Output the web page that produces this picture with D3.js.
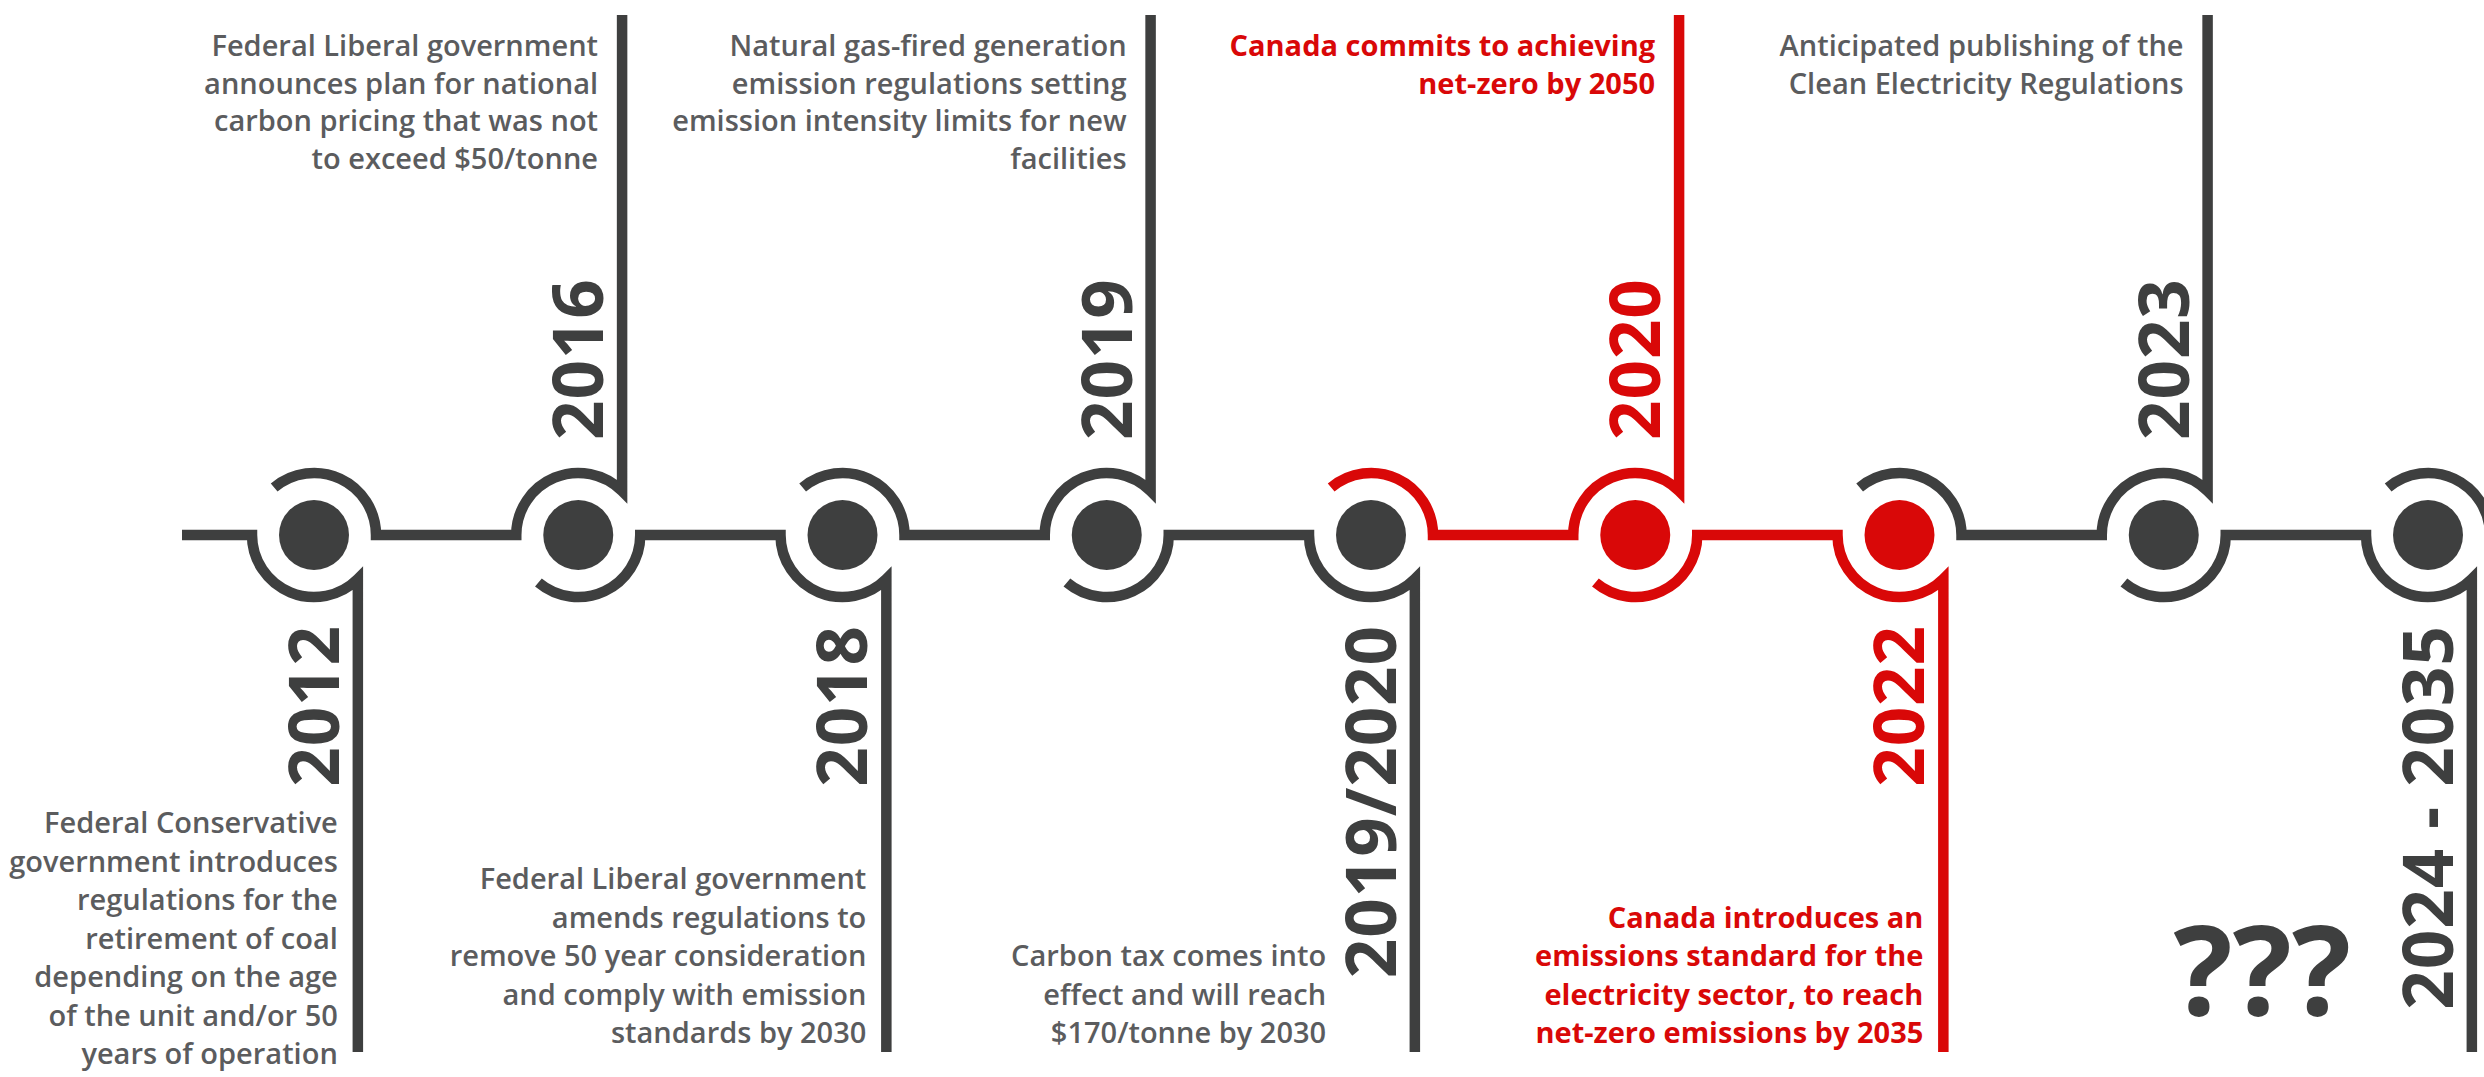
<!DOCTYPE html>
<html>
<head>
<meta charset="utf-8">
<title>Canada electricity emissions timeline</title>
<script src="https://cdn.jsdelivr.net/npm/d3@7"></script>
<style>
  body { margin: 0; background: #fff; }
  #chart-area svg { display: block; font-family: "Open Sans", sans-serif; }
</style>
</head>
<body>
<div id="chart-area"></div>
<script>
// timeline data
const EVENTS = ["2012", "2016", "2018", "2019", "2019/2020", "2020", "2022", "2023", "2024 - 2035"]
const SIDES = ["bottom", "top", "bottom", "top", "bottom", "top", "bottom", "top", "bottom"]
const HIGHLIGHT = [false, false, false, false, false, true, true, false, false]
const NOTES = [
	["Federal Conservative", "government introduces", "regulations for the", "retirement of coal", "depending on the age", "of the unit and/or 50", "years of operation"],
	["Federal Liberal government", "announces plan for national", "carbon pricing that was not", "to exceed $50/tonne"],
	["Federal Liberal government", "amends regulations to", "remove 50 year consideration", "and comply with emission", "standards by 2030"],
	["Natural gas-fired generation", "emission regulations setting", "emission intensity limits for new", "facilities"],
	["Carbon tax comes into", "effect and will reach", "$170/tonne by 2030"],
	["Canada commits to achieving", "net-zero by 2050"],
	["Canada introduces an", "emissions standard for the", "electricity sector, to reach", "net-zero emissions by 2035"],
	["Anticipated publishing of the", "Clean Electricity Regulations"],
	["???"]
]

const WIDTH = 2484
const HEIGHT = 1077
const MARGIN = { LEFT: 314, RIGHT: 56, TOP: 15, BOTTOM: 25 }
const AXIS_Y = 535
const TOP_Y = MARGIN.TOP
const BOTTOM_Y = HEIGHT - MARGIN.BOTTOM
const RING_R = 62
const DOT_R = 35
const STROKE = 10.5
const JX = RING_R * Math.cos(Math.PI / 4)   // where the stem leaves the ring
const TAIL = 130 * Math.PI / 180            // free end of the open half-ring
const LEAD = 70
const LABEL_SIZE = 69
const LABEL_GAP = 19

const DARK = "#3e3f3f"
const RED = "#d90808"
const GREY = "#5b5c5e"

const x = d3.scalePoint()
	.domain(EVENTS)
	.range([MARGIN.LEFT, WIDTH - MARGIN.RIGHT])

const svg = d3.select("#chart-area").append("svg")
	.attr("width", WIDTH)
	.attr("height", HEIGHT)

const lineGroup = svg.append("g")
const dotGroup = svg.append("g")
const labelGroup = svg.append("g")
const noteGroup = svg.append("g")

// half ring a node hands on to the next segment
function outgoing(p, i) {
	const cx = x(EVENTS[i])
	if (SIDES[i] === "top") p.arc(cx, AXIS_Y, RING_R, TAIL, 0, true)
	else p.arc(cx, AXIS_Y, RING_R, -TAIL, 0, false)
}

// half ring + stem of the node a segment runs into
function incoming(p, i) {
	const cx = x(EVENTS[i])
	p.lineTo(cx - RING_R, AXIS_Y)
	if (SIDES[i] === "top") {
		p.arc(cx, AXIS_Y, RING_R, Math.PI, 1.75 * Math.PI, false)
		p.lineTo(cx + JX, TOP_Y)
	} else {
		p.arc(cx, AXIS_Y, RING_R, Math.PI, 0.25 * Math.PI, true)
		p.lineTo(cx + JX, BOTTOM_Y)
	}
}

const segments = EVENTS.map((ev, i) => {
	const p = d3.path()
	if (i === 0) p.moveTo(x(ev) - RING_R - LEAD, AXIS_Y)
	else outgoing(p, i - 1)
	incoming(p, i)
	return { d: p.toString(), color: HIGHLIGHT[i] ? RED : DARK }
})
const tail = d3.path()
outgoing(tail, EVENTS.length - 1)
tail.lineTo(WIDTH, AXIS_Y)
segments.push({ d: tail.toString(), color: DARK })

lineGroup.selectAll("path")
	.data(segments)
	.join("path")
	.attr("d", d => d.d)
	.attr("fill", "none")
	.attr("stroke", d => d.color)
	.attr("stroke-width", STROKE)
	.attr("stroke-linejoin", "miter")
	.attr("stroke-miterlimit", 10)

dotGroup.selectAll("circle")
	.data(EVENTS)
	.join("circle")
	.attr("cx", d => x(d))
	.attr("cy", AXIS_Y)
	.attr("r", DOT_R)
	.attr("fill", (d, i) => HIGHLIGHT[i] ? RED : DARK)

// Year labels, rotated
const labels = labelGroup.selectAll("text")
	.data(EVENTS)
	.join("text")
	.attr("transform", (d, i) => `translate(${x(d) + JX - LABEL_GAP}, ${SIDES[i] === "top" ? AXIS_Y - 95 : AXIS_Y + 90}) rotate(-90)`)
	.attr("text-anchor", (d, i) => SIDES[i] === "top" ? "start" : "end")
	.attr("font-size", LABEL_SIZE + "px")
	.attr("font-weight", 700)
	.attr("letter-spacing", 1)
	.attr("fill", (d, i) => HIGHLIGHT[i] ? RED : DARK)
	.text(d => d)

// Notes
labels.each(function(d, i) {
	const len = this.getComputedTextLength()
	const vx = x(d) + JX
	const future = i === EVENTS.length - 1
	const size = future ? 124 : 29
	const lh = SIDES[i] === "top" ? 37.5 : 38.5
	const capH = size * 0.72
	const gap = Math.max(20, size * 0.42)
	const n = NOTES[i].length
	let nx, firstBase

	if (SIDES[i] === "top") {
		nx = vx - 24
		firstBase = 56
	} else {
		const labelBottom = AXIS_Y + 90 + len
		const minFirst = labelBottom + 34 + capH
		firstBase = BOTTOM_Y - size * 0.3 - (n - 1) * lh
		nx = vx - gap
		if (firstBase < minFirst) {
			// push below the year label if it still fits, else move left of it
			const pushed = Math.min(minFirst, HEIGHT - 13 - (n - 1) * lh)
			if (pushed >= minFirst - 10) firstBase = pushed
			else nx = vx - LABEL_GAP - LABEL_SIZE * 0.72 - gap
		}
	}

	const note = noteGroup.append("text")
		.attr("text-anchor", "end")
		.attr("font-size", size + "px")
		.attr("font-weight", HIGHLIGHT[i] || future ? 700 : 600)
		.attr("fill", HIGHLIGHT[i] ? RED : (future ? DARK : GREY))

	note.selectAll("tspan")
		.data(NOTES[i])
		.join("tspan")
		.attr("x", nx)
		.attr("y", (t, k) => firstBase + k * lh)
		.text(t => t)
})
</script>
</body>
</html>
